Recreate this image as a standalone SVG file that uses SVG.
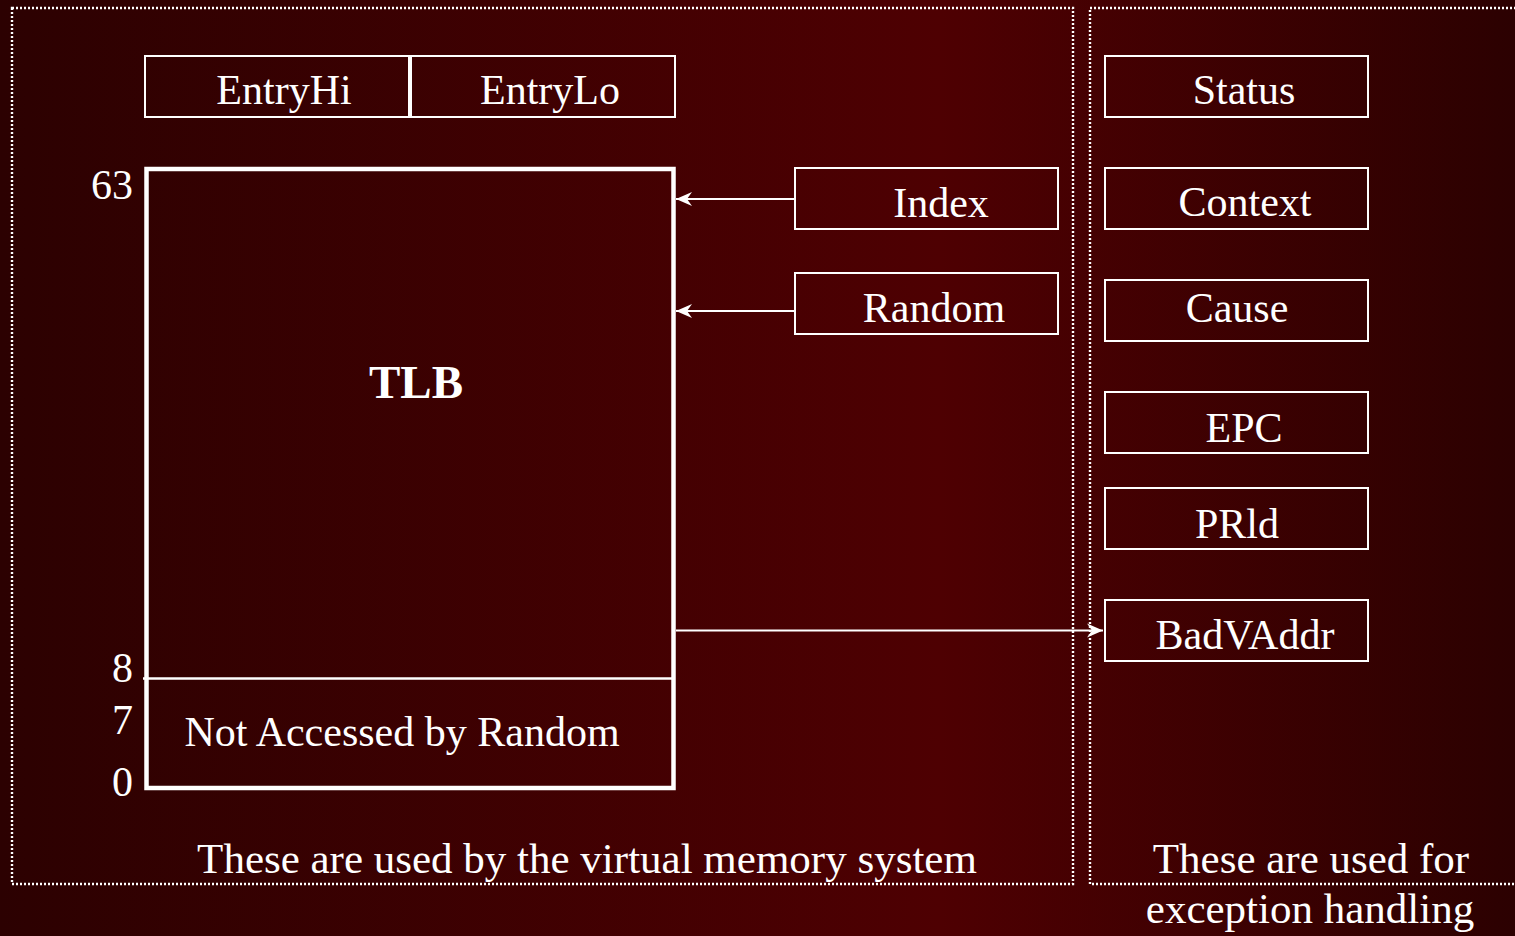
<svg xmlns="http://www.w3.org/2000/svg" width="1515" height="936" viewBox="0 0 1515 936">
  <defs>
    <linearGradient id="bg" x1="0" y1="0" x2="1" y2="0">
      <stop offset="0" stop-color="#2c0101"/>
      <stop offset="0.62" stop-color="#4e0002"/>
      <stop offset="1" stop-color="#2c0101"/>
    </linearGradient>
    <marker id="arrow" markerUnits="userSpaceOnUse" markerWidth="20" markerHeight="18" refX="0" refY="0" viewBox="-18 -9 20 18" orient="auto">
      <path d="M0,0 L-16,-7 L-11,0 L-16,7 Z" fill="#ffffff"/>
    </marker>
    <style>
      text { font-family: "Liberation Serif", "Times New Roman", serif; fill: #ffffff; font-size: 42px; }
      .c { text-anchor: middle; }
      .num { text-anchor: end; }
      .cap { font-size: 43px; }
      .reg { fill: none; stroke: #ffffff; stroke-width: 2; }
      .zone { fill: none; stroke: #ffffff; stroke-width: 2.4; stroke-dasharray: 2 2; }
      .wire { fill: none; stroke: #ffffff; stroke-width: 2; marker-end: url(#arrow); }
    </style>
  </defs>

  <rect x="0" y="0" width="1515" height="936" fill="url(#bg)"/>

  <!-- register groupings -->
  <g id="zones">
    <rect class="zone" x="12" y="8" width="1061" height="876"/>
    <rect class="zone" x="1090" y="8" width="440" height="876"/>
  </g>

  <!-- virtual memory registers -->
  <g id="entryhi">
    <rect class="reg" x="145" y="56" width="264" height="61"/>
    <text class="c" x="284" y="104">EntryHi</text>
  </g>
  <g id="entrylo">
    <rect class="reg" x="411" y="56" width="264" height="61"/>
    <text class="c" x="550" y="104">EntryLo</text>
  </g>

  <g id="tlb">
    <rect x="146.5" y="169" width="527" height="619" fill="none" stroke="#ffffff" stroke-width="4.5"/>
    <line x1="143" y1="678.5" x2="672" y2="678.5" stroke="#ffffff" stroke-width="2.5"/>
    <text class="c" x="416" y="398" font-weight="bold" style="font-size:47px">TLB</text>
    <text class="c" x="402" y="746">Not Accessed by Random</text>
    <text class="num" x="133" y="199">63</text>
    <text class="num" x="133" y="682">8</text>
    <text class="num" x="133" y="734">7</text>
    <text class="num" x="133" y="796">0</text>
  </g>

  <g id="index">
    <rect class="reg" x="795" y="168" width="263" height="61"/>
    <text class="c" x="941" y="217">Index</text>
  </g>
  <g id="random">
    <rect class="reg" x="795" y="273" width="263" height="61"/>
    <text class="c" x="934" y="322">Random</text>
  </g>

  <!-- exception handling registers -->
  <g id="status">
    <rect class="reg" x="1105" y="56" width="263" height="61"/>
    <text class="c" x="1244" y="104">Status</text>
  </g>
  <g id="context">
    <rect class="reg" x="1105" y="168" width="263" height="61"/>
    <text class="c" x="1245" y="216">Context</text>
  </g>
  <g id="cause">
    <rect class="reg" x="1105" y="280" width="263" height="61"/>
    <text class="c" x="1237" y="322">Cause</text>
  </g>
  <g id="epc">
    <rect class="reg" x="1105" y="392" width="263" height="61"/>
    <text class="c" x="1244" y="442">EPC</text>
  </g>
  <g id="prld">
    <rect class="reg" x="1105" y="488" width="263" height="61"/>
    <text class="c" x="1237" y="538">PRld</text>
  </g>
  <g id="badvaddr">
    <rect class="reg" x="1105" y="600" width="263" height="61"/>
    <text class="c" x="1245" y="649">BadVAddr</text>
  </g>

  <g id="connectors">
    <line class="wire" x1="795" y1="199" x2="676" y2="199"/>
    <line class="wire" x1="795" y1="311" x2="676" y2="311"/>
    <line class="wire" x1="676" y1="630.5" x2="1103" y2="630.5"/>
  </g>

  <g id="captions">
    <text class="c cap" x="587" y="873">These are used by the virtual memory system</text>
    <text class="c cap" x="1311" y="873">These are used for</text>
    <text class="c cap" x="1310" y="923">exception handling</text>
  </g>
</svg>
